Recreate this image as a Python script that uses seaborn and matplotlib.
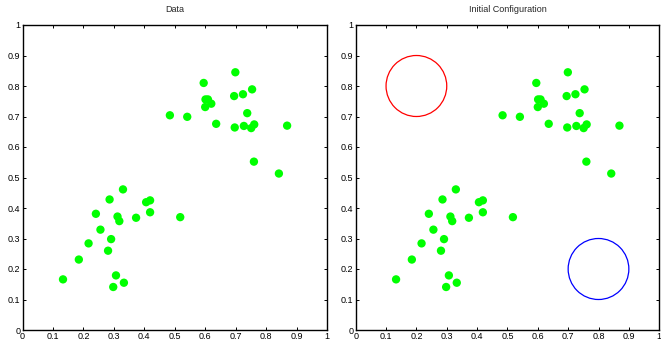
import numpy as np
import pandas as pd
import matplotlib
matplotlib.use("Agg")
import matplotlib.pyplot as plt
from matplotlib.patches import Circle
import seaborn as sns

# Sample points
x_vals = [0.133, 0.185, 0.217, 0.241, 0.256, 0.286, 0.291, 0.281, 0.298, 0.307,
          0.333, 0.312, 0.318, 0.330, 0.373, 0.406, 0.419, 0.419, 0.518, 0.484,
          0.541, 0.595, 0.601, 0.609, 0.620, 0.600, 0.636, 0.699, 0.695, 0.724,
          0.754, 0.738, 0.697, 0.727, 0.751, 0.761, 0.869, 0.760, 0.842]
y_vals = [0.166, 0.231, 0.284, 0.381, 0.329, 0.428, 0.298, 0.260, 0.141, 0.179,
          0.155, 0.372, 0.357, 0.461, 0.368, 0.419, 0.425, 0.386, 0.370, 0.704,
          0.699, 0.810, 0.756, 0.756, 0.742, 0.731, 0.676, 0.845, 0.767, 0.773,
          0.789, 0.711, 0.664, 0.669, 0.662, 0.674, 0.670, 0.552, 0.513]

# Initial cluster centres and radius of the drawn circles
centre_x = [0.2, 0.8]
centre_y = [0.8, 0.2]
radius = [0.1, 0.1]
centre_colors = ["#ff0000", "#0000ff"]

titles = ["Data", "Initial Configuration"]
ticks = [0, 0.1, 0.2, 0.3, 0.4, 0.5, 0.6, 0.7, 0.8, 0.9, 1]
tick_labels = ["0", "0.1", "0.2", "0.3", "0.4", "0.5", "0.6", "0.7", "0.8", "0.9", "1"]

df = pd.DataFrame({"x": x_vals, "y": y_vals})

sns.set_style("white")
plt.rcParams["font.family"] = ["Liberation Sans", "DejaVu Sans"]

fig = plt.figure(figsize=(6.61, 3.42), dpi=100)
ax1 = fig.add_axes([22.5 / 661, 12 / 342, 304.5 / 661, 305 / 342])
ax2 = fig.add_axes([355.7 / 661, 12 / 342, 303.5 / 661, 305 / 342])

for i, ax in enumerate([ax1, ax2]):
    sns.scatterplot(data=df, x="x", y="y", ax=ax, color="#00ff00", s=36,
                    edgecolor="none", linewidth=0)
    ax.set_xlim(0, 1)
    ax.set_ylim(0, 1)
    ax.set_xticks(ticks)
    ax.set_yticks(ticks)
    ax.set_xticklabels(tick_labels)
    ax.set_yticklabels(tick_labels)
    ax.set_xlabel("")
    ax.set_ylabel("")
    ax.set_title(titles[i], fontsize=6.5, pad=9)
    ax.tick_params(direction="in", length=2, width=0.7, labelsize=6.5,
                   top=True, right=True, bottom=True, left=True, pad=1.5,
                   colors="black")
    for sp in ax.spines.values():
        sp.set_visible(True)
        sp.set_color("black")
        sp.set_linewidth(1.0)

for cx, cy, r, c in zip(centre_x, centre_y, radius, centre_colors):
    ax2.add_patch(Circle((cx, cy), r, fill=False, edgecolor=c, linewidth=0.9))

fig.savefig("out.png", dpi=100)
